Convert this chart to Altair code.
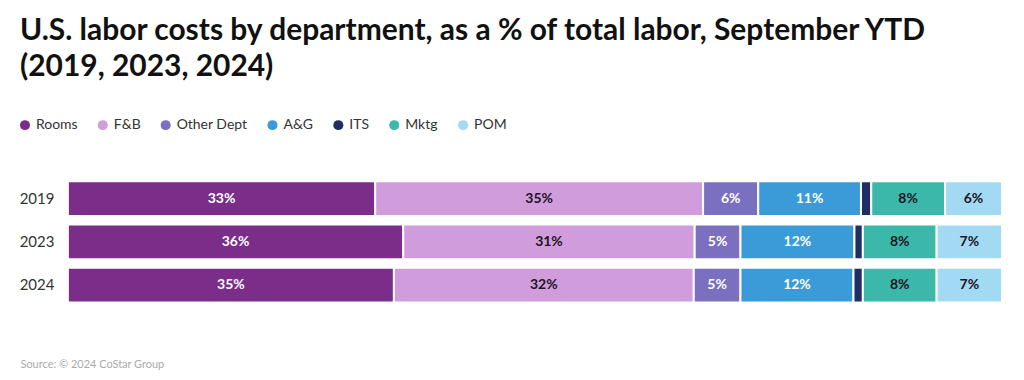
import altair as alt
import pandas as pd

years = ["2019", "2023", "2024"]
departments = ["Rooms", "F&B", "Other Dept", "A&G", "ITS", "Mktg", "POM"]
colors = ["#7b2d8a", "#d19cdc", "#7b6fbf", "#3a9bd8", "#1f2e63", "#3bb8aa", "#a3daf3"]
label_colors = ["white", "#1c1424", "white", "white", "white", "#1c1424", "#1c1424"]
values = {
    "2019": [32.9, 35.1, 5.9, 11.0, 1.1, 7.9, 6.1],
    "2023": [35.9, 31.2, 4.9, 12.2, 0.9, 7.9, 7.0],
    "2024": [34.9, 32.1, 5.0, 12.1, 1.0, 7.9, 7.0],
}

rows = []
for y in years:
    for i, d in enumerate(departments):
        rows.append({"year": y, "dept": d, "order": i, "value": values[y][i],
                     "tcolor": label_colors[i]})
df = pd.DataFrame(rows)

FONT = "Lato"

base = alt.Chart(df).transform_stack(
    stack="value", groupby=["year"], as_=["v0", "v1"],
    sort=[alt.SortField("order", order="ascending")]
)

bars = base.mark_bar(stroke="white", strokeWidth=2).encode(
    y=alt.Y("year:N", sort=years,
            scale=alt.Scale(paddingInner=0.2, paddingOuter=0.1),
            axis=alt.Axis(title=None, ticks=False, domain=False, labelFontSize=15,
                          labelColor="#333333", labelFont=FONT, labelPadding=14)),
    x=alt.X("v0:Q", scale=alt.Scale(domain=[0, 100], nice=False),
            axis=alt.Axis(labels=False, ticks=False, domain=False, grid=False,
                          title="Source: © 2024 CoStar Group", titleFont=FONT,
                          titleFontSize=11, titleFontWeight="normal", titleColor="#aaaaaa",
                          titleAnchor="start", titleAlign="left", titleX=-48, titleY=61,
                          titleBaseline="alphabetic")),
    x2="v1:Q",
    color=alt.Color("dept:N", sort=departments,
                    scale=alt.Scale(domain=departments, range=colors),
                    legend=alt.Legend(title=None, orient="none", direction="horizontal",
                                      legendX=-50, legendY=-59, symbolType="circle",
                                      symbolSize=100, symbolStrokeWidth=0, labelFont=FONT,
                                      labelFontSize=14, labelColor="#333333",
                                      columnPadding=18, labelOffset=4)),
    order=alt.Order("order:Q"),
)

labels = base.transform_filter("datum.value >= 2").transform_calculate(
    mid="(datum.v0 + datum.v1) / 2",
    txt="format(round(datum.value), 'd') + '%'",
).mark_text(font=FONT, fontWeight="bold", fontSize=14).encode(
    y=alt.Y("year:N", sort=years),
    x=alt.X("mid:Q"),
    text="txt:N",
    color=alt.Color("tcolor:N", scale=None),
)

chart = alt.layer(bars, labels).properties(
    width=936, height=130,
    padding={"left": 10, "top": 8, "right": 12, "bottom": 5},
    title=alt.TitleParams(
        ["U.S. labor costs by department, as a % of total labor, September YTD",
         "(2019, 2023, 2024)"],
        anchor="start", frame="bounds", font=FONT, fontSize=30, fontWeight="bold",
        color="#111111", lineHeight=36, offset=36, dx=2),
).configure_view(stroke=None)

chart.save("out.html", embed_options={"renderer": "svg", "actions": False})
